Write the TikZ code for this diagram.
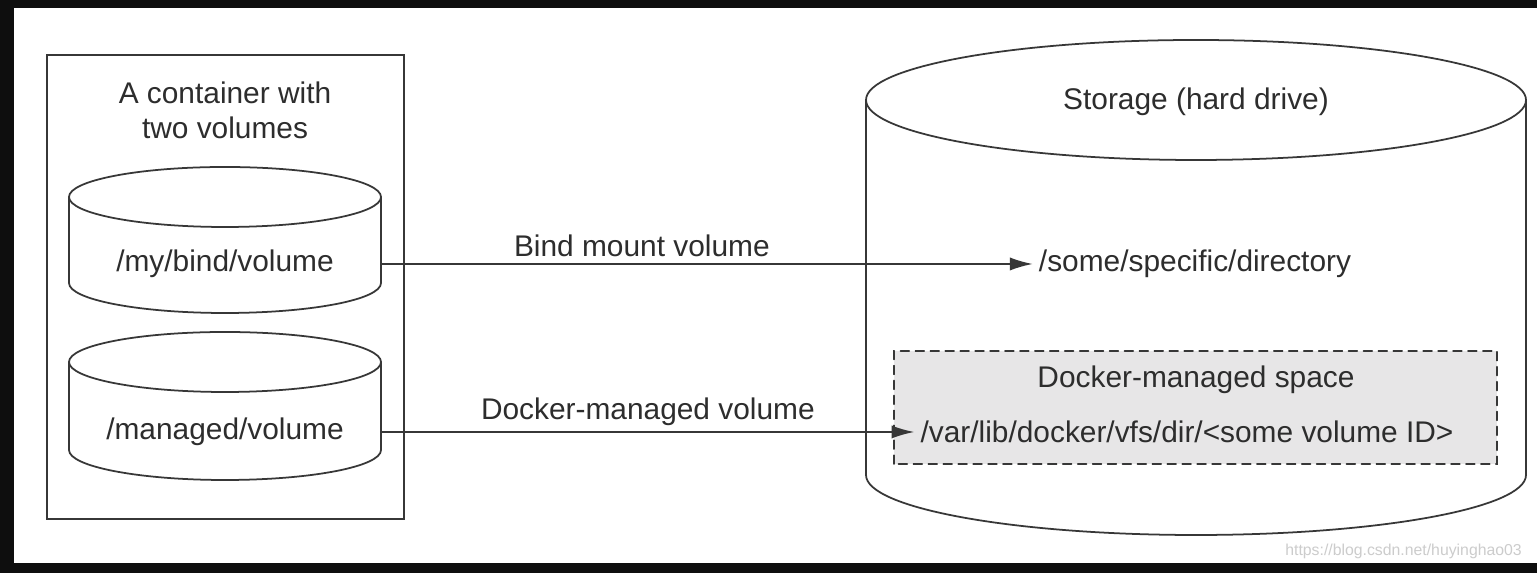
\documentclass[tikz,border=0pt]{standalone}
\usepackage{fontspec}
\setmainfont{Liberation Sans}
\usetikzlibrary{arrows.meta, positioning}
\definecolor{framecolor}{RGB}{14,14,14}
\definecolor{linegray}{RGB}{55,55,55}
\definecolor{textgray}{RGB}{45,45,45}
\definecolor{spacegray}{RGB}{231,230,231}

\begin{document}
\begin{tikzpicture}[x=0.02cm, y=0.02cm, line cap=round,
        every node/.style={text=textgray, font=\fontsize{17}{20}\selectfont},
        conn/.style={draw=linegray, line width=1pt, -{Latex[length=13pt, width=7.5pt]}},
        vol/.style={minimum width=6.24cm, inner sep=0pt}]
        \useasboundingbox (0,0) rectangle (1537,573);
        \fill [framecolor] (0,0) rectangle (1537,573);
        \fill [white] (14,10) rectangle (1537,565);

        \draw [linegray, line width=1.1pt] (47,54) rectangle (404,518);
        \node [align=center] (title) at (225,463) {A container with\\two volumes};

        \draw [linegray, line width=1pt] (225,376) ellipse (156 and 30);
        \draw [linegray, line width=1pt] (69,376) -- (69,290) arc (180:360:156 and 30) -- (381,376);
        \node [vol] (bindvol) at (225,309) {/my/bind/volume};

        \draw [linegray, line width=1pt] (225,211) ellipse (156 and 30);
        \draw [linegray, line width=1pt] (69,211) -- (69,123) arc (180:360:156 and 30) -- (381,211);
        \node [vol] (mgdvol) at (225,141) {/managed/volume};

        \draw [linegray, line width=1pt] (1196,473) ellipse (330 and 60);
        \draw [linegray, line width=1pt] (866,473) -- (866,98) arc (180:360:330 and 60) -- (1526,473);
        \node (storage) at (1196,471) {Storage (hard drive)};

        \node (specdir) at (1195,309) {/some/specific/directory};

        \draw [linegray, line width=0.9pt, dash pattern=on 5pt off 3.5pt, fill=spacegray] (894,109) rectangle (1497,222);
        \node (space) at (1196,193) {Docker-managed space};
        \node (vardir) at (1187,141) {/var/lib/docker/vfs/dir/<some volume ID>};

        \draw [conn] (bindvol.east) -- node [above, pos=0.4] (bindlbl) {Bind mount volume} (specdir.west);
        \draw [conn] (mgdvol.east) -- node [above] (mgdlbl) {Docker-managed volume} (vardir.west);

        \node [anchor=east, text=gray!40, font=\fontsize{9}{11}\selectfont] (mark) at (1528,22) {https://blog.csdn.net/huyinghao03};
    \end{tikzpicture}
\end{document}
